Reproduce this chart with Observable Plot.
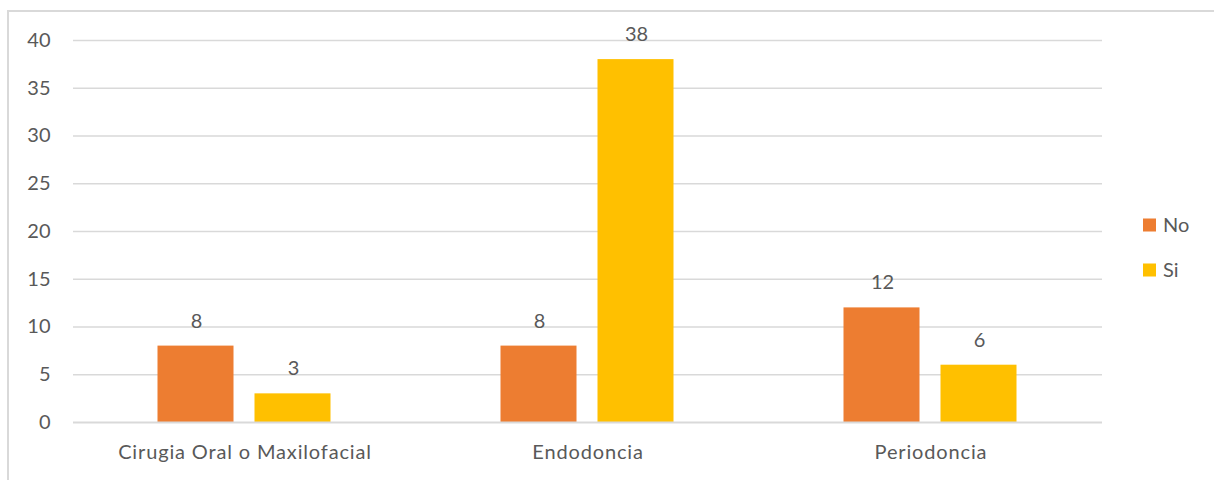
<!DOCTYPE html>
<html>
<head>
<meta charset="utf-8">
<script src="https://cdn.jsdelivr.net/npm/d3@7"></script>
<script src="https://cdn.jsdelivr.net/npm/@observablehq/plot@0.6"></script>
<style>
  html, body { margin: 0; padding: 0; background: #fff; }
  #wrap { position: relative; width: 1214px; height: 480px; overflow: hidden; }
  #frame { position: absolute; left: 7px; top: 10px; width: 1220px; height: 480px;
           border-left: 2px solid #d9d9d9; border-top: 2px solid #d9d9d9; pointer-events: none; }
  .cat-axis text { letter-spacing: 0.85px; }
</style>
</head>
<body>
<div id="wrap"><div id="frame"></div></div>
<script>
// Especialidades y respuestas (No / Si)
const categories = ["Cirugia Oral o Maxilofacial", "Endodoncia", "Periodoncia"];
const series = ["No", "Si"];
const valuesNo = [8, 8, 12];
const valuesSi = [3, 38, 6];
const yTicks = [0, 5, 10, 15, 20, 25, 30, 35, 40];
const colors = ["#ED7D31", "#FFC000"];

const rows = categories.flatMap((c, i) => [
  {categoria: c, serie: "No", valor: valuesNo[i]},
  {categoria: c, serie: "Si", valor: valuesSi[i]}
]);

const font = "Lato, 'Open Sans', sans-serif";
const textColor = "#595959";
const fontSize = 20;

const plot = Plot.plot({
  width: 1214,
  height: 480,
  marginLeft: 72,
  marginRight: 112,
  marginTop: 40,
  marginBottom: 58,
  style: {fontFamily: font, fontSize: `${fontSize}px`, color: textColor, background: "transparent"},
  fx: {domain: categories, padding: 0, label: null, axis: null},
  x: {domain: series, paddingInner: 21 / 98, paddingOuter: 0.859, axis: null},
  y: {domain: [0, 40], axis: null},
  color: {domain: series, range: colors},
  marks: [
    Plot.ruleY(yTicks.filter(d => d > 0), {stroke: "#d9d9d9", strokeWidth: 1.5}),
    Plot.barY(rows, {fx: "categoria", x: "serie", y: "valor", fill: "serie", inset: 0, dx: -0.5}),
    Plot.ruleY([0], {stroke: "#d9d9d9", strokeWidth: 2}),
    Plot.text(rows, {fx: "categoria", x: "serie", y: "valor", text: d => String(d.valor),
      dy: -25, fill: textColor, fontSize}),
    Plot.axisY({ticks: yTicks, tickSize: 0, tickPadding: 23, fontSize, fill: textColor,
      label: null, tickFormat: d => String(d)}),
    Plot.axisFx({anchor: "bottom", tickSize: 0, tickPadding: 22, fontSize, fill: textColor,
      label: null, className: "cat-axis"})
  ]
});

document.getElementById("wrap").prepend(plot);

// Leyenda a la derecha, dentro del SVG
const color = plot.scale("color");
const svg = d3.select(plot);
const legend = svg.append("g")
  .attr("font-family", font).attr("font-size", fontSize)
  .attr("fill", textColor).attr("text-anchor", "start");
const legendY = [225, 270];
series.forEach((s, i) => {
  const g = legend.append("g").attr("transform", `translate(1143,${legendY[i]})`);
  g.append("rect").attr("x", 0).attr("y", -6.5).attr("width", 13).attr("height", 13)
    .attr("fill", color.apply(s));
  g.append("text").attr("x", 20).attr("y", 0).attr("dy", "0.35em").text(s);
});
</script>
</body>
</html>
